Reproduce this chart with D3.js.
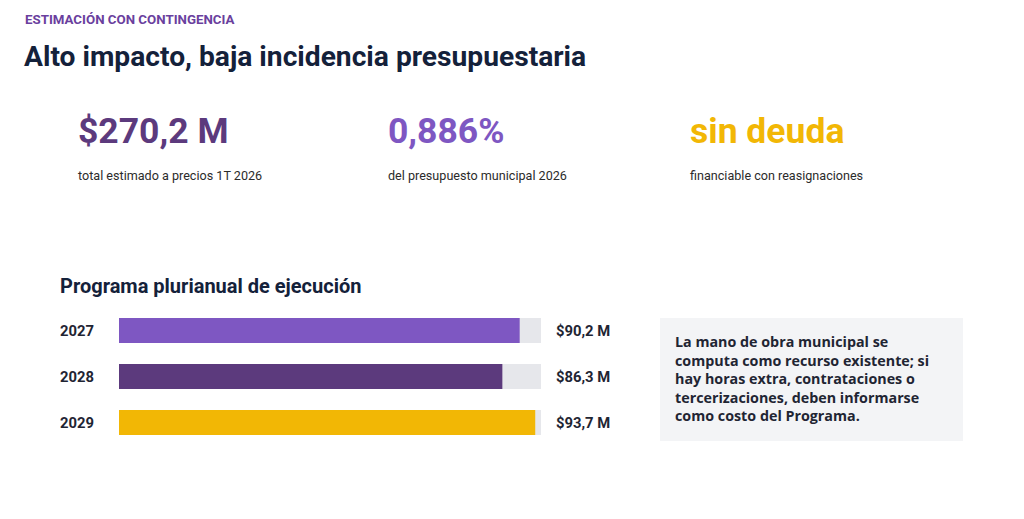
<!DOCTYPE html>
<html>
<head>
<meta charset="utf-8">
<script src="https://cdn.jsdelivr.net/npm/d3@7"></script>
<style>
  body { margin: 0; background: #fff; }
  svg { display: block; font-family: Roboto, "Noto Sans", sans-serif; }
</style>
</head>
<body>
<div id="chart"></div>
<script>
// Headline figures
const kpiValues = ['$270,2 M', '0,886%', 'sin deuda'];
const kpiLabels = ['total estimado a precios 1T 2026', 'del presupuesto municipal 2026', 'financiable con reasignaciones'];
const kpiColors = ['#5c3a7d', '#7e57c2', '#f2b705'];

// Multi-year programme
const years = ['2027', '2028', '2029'];
const amounts = [90.2, 86.3, 93.7];
const amountLabels = ['$90,2 M', '$86,3 M', '$93,7 M'];
const barColors = ['#7e57c2', '#5c3a7d', '#f2b705'];
const trackMax = 95;

// Side note
const noteLines = [
  'La mano de obra municipal se',
  'computa como recurso existente; si',
  'hay horas extra, contrataciones o',
  'tercerizaciones, deben informarse',
  'como costo del Programa.'
];

const width = 1024;
const height = 519;

const svg = d3.select('#chart')
  .append('svg')
  .attr('width', width)
  .attr('height', height);

// Header
svg.append('text')
  .attr('x', 25).attr('y', 24)
  .style('font-size', '13.3px')
  .style('font-weight', 700)
  .style('fill', '#6a3f9e')
  .text('ESTIMACIÓN CON CONTINGENCIA');

svg.append('text')
  .attr('x', 24).attr('y', 66)
  .style('font-size', '28.2px')
  .style('font-weight', 700)
  .style('fill', '#14213a')
  .text('Alto impacto, baja incidencia presupuestaria');

// KPI row
const kpiX = d3.scaleOrdinal()
  .domain(kpiValues)
  .range([78, 388, 690]);

const kpi = svg.append('g')
  .selectAll('g')
  .data(kpiValues)
  .enter()
  .append('g')
  .attr('transform', d => `translate(${kpiX(d)},0)`);

kpi.append('text')
  .attr('y', 143)
  .style('font-size', '35.5px')
  .style('font-weight', 700)
  .style('fill', (d, i) => kpiColors[i])
  .text(d => d);

kpi.append('text')
  .attr('y', 180)
  .style('font-size', '12.6px')
  .style('fill', '#2b2b2b')
  .text((d, i) => kpiLabels[i]);

// Programme bars
svg.append('text')
  .attr('x', 60).attr('y', 293)
  .style('font-size', '20px')
  .style('font-weight', 700)
  .style('fill', '#14213a')
  .text('Programa plurianual de ejecución');

const x = d3.scaleLinear()
  .domain([0, trackMax])
  .range([119, 541]);

const y = d3.scaleBand()
  .domain(years)
  .range([318, 435])
  .paddingInner(0.4565)
  .paddingOuter(0);

const rows = svg.append('g')
  .selectAll('g')
  .data(years)
  .enter()
  .append('g');

rows.append('rect')
  .attr('x', x(0))
  .attr('y', d => y(d))
  .attr('width', x(trackMax) - x(0))
  .attr('height', y.bandwidth())
  .style('fill', '#e6e7eb');

rows.append('rect')
  .attr('x', x(0))
  .attr('y', d => y(d))
  .attr('width', (d, i) => x(amounts[i]) - x(0))
  .attr('height', y.bandwidth())
  .style('fill', (d, i) => barColors[i]);

rows.append('text')
  .attr('x', 60)
  .attr('y', d => y(d) + y.bandwidth() / 2)
  .attr('dy', '0.35em')
  .style('font-size', '14.8px')
  .style('font-weight', 700)
  .style('fill', '#1f2533')
  .text(d => d);

rows.append('text')
  .attr('x', 556)
  .attr('y', d => y(d) + y.bandwidth() / 2)
  .attr('dy', '0.35em')
  .style('font-size', '14.8px')
  .style('font-weight', 700)
  .style('fill', '#1f2533')
  .text((d, i) => amountLabels[i]);

// Note box
svg.append('rect')
  .attr('x', 660).attr('y', 318)
  .attr('width', 303).attr('height', 123)
  .style('fill', '#f3f4f6');

svg.append('text')
  .attr('x', 675)
  .attr('y', 347)
  .style('font-family', '"Open Sans", Roboto, sans-serif')
  .style('font-size', '14.3px')
  .style('font-weight', 700)
  .style('fill', '#1f2533')
  .selectAll('tspan')
  .data(noteLines)
  .enter()
  .append('tspan')
  .attr('x', 675)
  .attr('dy', (d, i) => i === 0 ? 0 : 18.5)
  .text(d => d);
</script>
</body>
</html>
